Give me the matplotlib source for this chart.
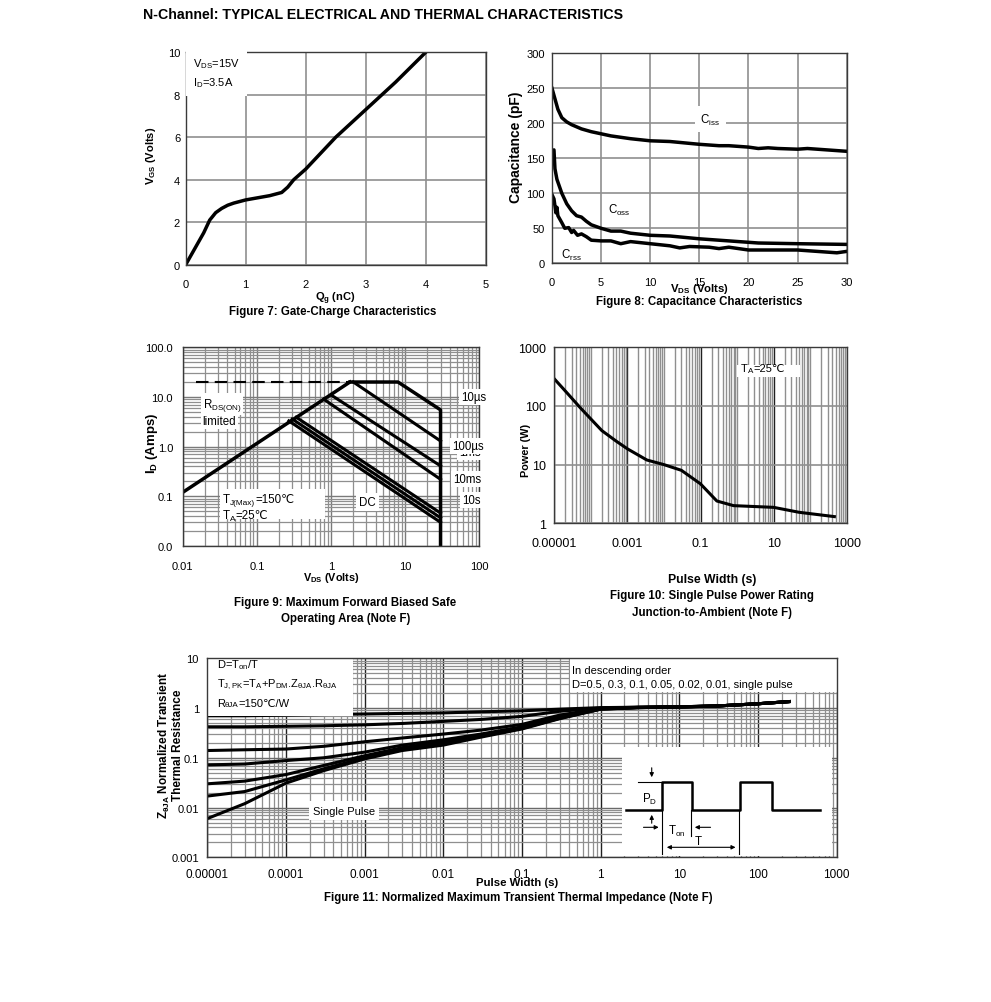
import matplotlib
matplotlib.use("Agg")
import matplotlib.pyplot as plt
from matplotlib.patches import Rectangle
from matplotlib.ticker import LogLocator, NullFormatter, FixedLocator

plt.rcParams['font.family'] = ['Liberation Sans', 'DejaVu Sans']
plt.rcParams['mathtext.default'] = 'regular'
plt.rcParams['font.size'] = 7.5

# ---------------- data ----------------
# Figure 7: gate charge
qg = [0, 0.1, 0.2, 0.3, 0.4, 0.5, 0.6, 0.7, 0.8, 1.0, 1.2, 1.4, 1.6, 1.7, 1.8, 2.0, 2.5, 3.0, 3.5, 4.0]
vgs = [0, 0.5, 1.0, 1.5, 2.1, 2.45, 2.65, 2.8, 2.9, 3.05, 3.15, 3.25, 3.4, 3.65, 4.0, 4.5, 6.0, 7.3, 8.6, 10.0]

# Figure 8: capacitance
vds_ciss = [0, 0.3, 0.6, 1, 1.5, 2, 3, 4, 5, 6, 7, 8, 10, 12, 15, 17, 18, 20, 21, 22, 23, 25, 26, 28, 30]
ciss = [250, 235, 220, 208, 202, 198, 192, 188, 185, 182, 180, 178, 175, 174, 170, 168, 168, 166, 164, 165, 164, 163, 164, 162, 160]
vds_coss = [0.05, 0.2, 0.3, 0.5, 1, 1.5, 2, 2.5, 3, 3.5, 4, 5, 6, 7, 8, 10, 12, 15, 20, 21, 25, 30]
coss = [160, 162, 135, 120, 100, 85, 75, 68, 66, 60, 55, 50, 46, 46, 43, 40, 39, 35, 30, 29, 28, 27]
vds_crss = [0, 0.2, 0.4, 0.5, 0.6, 1, 1.3, 1.7, 2, 2.2, 2.6, 3, 3.5, 4, 5, 6, 7, 8, 10, 12, 13, 14, 16, 17, 18, 20, 22, 25, 28, 29, 30]
crss = [98, 92, 72, 80, 68, 58, 50, 51, 44, 47, 40, 42, 38, 33, 32, 32, 28, 31, 28, 25, 22, 24, 23, 21, 23, 19, 19, 19, 16, 15, 17]

# Figure 9: safe operating area (V, A)
rds_v = [0.01, 1.8]
rds_i = [0.12, 20]
rds_dash_v = [0.015, 1.8]
rds_dash_i = [20, 20]
soa_lines = {
    '10us': ([1.8, 8, 30, 30], [20, 20, 5.5, 0.01]),
    '100us': ([2.0, 30], [20, 1.3]),
    '1ms': ([1.0, 30], [11, 0.41]),
    '10ms': ([0.8, 30], [9, 0.22]),
    '1s': ([0.34, 30], [3.9, 0.046]),
    '10s': ([0.3, 30], [3.6, 0.037]),
    'DC': ([0.27, 30], [3.3, 0.03]),
}
soa_labels = ['10\u00b5s', '1ms', '100\u00b5s', '10ms', '10s']
soa_label_v = [57, 53, 43, 44, 59]
soa_label_i = [9.9, 0.77, 1.05, 0.22, 0.086]

# Figure 10: single pulse power
pw = [1e-5, 2e-5, 5e-5, 1e-4, 2e-4, 5e-4, 1e-3, 3.4e-3, 1e-2, 3e-2, 0.1, 0.28, 0.8, 10, 50, 460]
ppk = [290, 180, 95, 60, 38, 25, 18.6, 12, 10, 8, 4.7, 2.4, 2.0, 1.87, 1.54, 1.3]

# Figure 11: transient thermal impedance
t_pulse = [1e-5, 3e-5, 1e-4, 3e-4, 1e-3, 3e-3, 1e-2, 3e-2, 0.1, 0.3, 1, 3, 10, 30, 100, 250]
zth = {
    0.5: [0.70, 0.70, 0.72, 0.74, 0.76, 0.78, 0.80, 0.84, 0.88, 0.95, 1.02, 1.04, 1.06, 1.1, 1.22, 1.35],
    0.3: [0.42, 0.42, 0.43, 0.44, 0.46, 0.49, 0.54, 0.59, 0.68, 0.86, 1.0, 1.04, 1.06, 1.1, 1.22, 1.35],
    0.1: [0.14, 0.145, 0.15, 0.17, 0.21, 0.25, 0.30, 0.36, 0.47, 0.72, 0.98, 1.03, 1.06, 1.1, 1.22, 1.35],
    0.05: [0.072, 0.075, 0.088, 0.10, 0.13, 0.18, 0.23, 0.30, 0.42, 0.67, 0.97, 1.03, 1.06, 1.1, 1.22, 1.35],
    0.02: [0.030, 0.034, 0.046, 0.07, 0.11, 0.16, 0.21, 0.28, 0.40, 0.64, 0.96, 1.02, 1.05, 1.1, 1.22, 1.35],
    0.01: [0.017, 0.021, 0.036, 0.06, 0.10, 0.15, 0.20, 0.27, 0.39, 0.62, 0.95, 1.02, 1.05, 1.1, 1.22, 1.35],
    0.0: [0.006, 0.012, 0.031, 0.055, 0.095, 0.14, 0.18, 0.26, 0.38, 0.61, 0.95, 1.02, 1.05, 1.1, 1.22, 1.35],
}

# inset schematic of the pulse train (drawing units)
pulse_x = [626, 662, 662, 692, 692, 740, 740, 772, 772, 820]
pulse_y = [811, 811, 783, 783, 811, 811, 783, 783, 811, 811]

W, H = 991, 1003
GRID = '#8f8f8f'
SPINE = '#3a3a3a'


def box(px0, py0, px1, py1):
    # axes rectangle from pixel corners
    return [px0 / W, 1 - py1 / H, (px1 - px0) / W, (py1 - py0) / H]


def style(ax, xpad, ypad, xsize, ysize):
    for s in ax.spines.values():
        s.set_color(SPINE)
        s.set_linewidth(1.0)
    ax.tick_params(which='both', length=0)
    ax.tick_params(axis='x', pad=xpad, labelsize=xsize)
    ax.tick_params(axis='y', pad=ypad, labelsize=ysize)
    ax.set_axisbelow(True)


def chain_text(ax, x, y, parts, size, transform=None):
    # plain-text pieces (keeps the font fallback for the degree-Celsius sign)
    first = prev = None
    for s, sub in parts:
        fs = size * 0.72 if sub else size
        if first is None:
            t = ax.text(x, y, s, fontsize=fs, ha='left', va='baseline', zorder=4,
                        transform=transform if transform is not None else ax.transData)
            first = t
        else:
            t = ax.annotate(s, xy=(1, 0), xycoords=(prev, first),
                            xytext=(0, -0.6 if sub else 0), textcoords='offset points',
                            fontsize=fs, ha='left', va='bottom', zorder=4)
        prev = t


wbox = dict(facecolor='white', edgecolor='none', pad=1.5)

fig = plt.figure(figsize=(W / 100, H / 100), dpi=100)

fig.text(143 / W, 1 - 15 / H, 'N-Channel: TYPICAL ELECTRICAL AND THERMAL CHARACTERISTICS',
         fontsize=10.2, fontweight='bold', va='center', ha='left')

# ---------------- Figure 7 ----------------
ax7 = fig.add_axes(box(185.7, 53.3, 485.7, 265.7))
ax7.plot(qg, vgs, color='black', lw=2.5)
ax7.set_xlim(0, 5)
ax7.set_ylim(0, 10)
ax7.set_xticks([0, 1, 2, 3, 4, 5])
ax7.set_yticks([0, 2, 4, 6, 8, 10])
ax7.grid(True, color=GRID, lw=1.2)
style(ax7, 10, 4, 8, 8)
ax7.set_xlabel('Q$_g$ (nC)', fontweight='bold', fontsize=8)
ax7.xaxis.set_label_coords(0.5, -0.118)
ax7.set_ylabel('V$_{GS}$ (Volts)', fontweight='bold', fontsize=8)
ax7.yaxis.set_label_coords(-0.092, 0.517)
ax7.text(0.12, 9.05, 'V$_{DS}$=15V\nI$_D$=3.5A', fontsize=8, va='center', ha='left',
         linespacing=1.5, bbox=dict(facecolor='white', edgecolor='none', pad=5))
fig.text(333 / W, 1 - 311.7 / H, 'Figure 7: Gate-Charge Characteristics',
         fontweight='bold', ha='center', va='center', fontsize=8.3)

# ---------------- Figure 8 ----------------
ax8 = fig.add_axes(box(552, 54.3, 846.7, 264.3))
ax8.plot(vds_ciss, ciss, color='black', lw=2.5)
ax8.plot(vds_coss, coss, color='black', lw=2.5)
ax8.plot(vds_crss, crss, color='black', lw=2.5)
ax8.set_xlim(0, 30)
ax8.set_ylim(0, 300)
ax8.set_xticks(range(0, 31, 5))
ax8.set_yticks(range(0, 301, 50))
ax8.grid(True, color=GRID, lw=1.2)
style(ax8, 10, 5, 8, 8)
ax8.text(16.1, 206, 'C$_{iss}$', ha='center', va='center', fontsize=8.3,
         bbox=dict(facecolor='white', edgecolor='none', pad=4))
ax8.text(6.9, 77, 'C$_{oss}$', ha='center', va='center', fontsize=8.3, bbox=wbox)
ax8.text(2.0, 12, 'C$_{rss}$', ha='center', va='center', fontsize=8.3)
ax8.set_xlabel('V$_{DS}$ (Volts)', fontweight='bold', fontsize=8.2)
ax8.xaxis.set_label_coords(0.5, -0.085)
ax8.set_ylabel('Capacitance (pF)', fontweight='bold', fontsize=10)
ax8.yaxis.set_label_coords(-0.098, 0.556)
fig.text(699 / W, 1 - 302 / H, 'Figure 8: Capacitance Characteristics',
         fontweight='bold', ha='center', va='center', fontsize=8.3)

# ---------------- Figure 9 ----------------
ax9 = fig.add_axes(box(182.7, 348.3, 479.3, 547))
ax9.set_xscale('log')
ax9.set_yscale('log')
ax9.plot(rds_v, rds_i, color='black', lw=2.5)
ax9.plot(rds_dash_v, rds_dash_i, color='black', lw=1.5, ls=(0, (6, 3)))
for name, (v, i) in soa_lines.items():
    ax9.plot(v, i, color='black', lw=2.5 if name == '10us' else 2.2)
for k, (lab, v, i) in enumerate(zip(soa_labels, soa_label_v, soa_label_i)):
    ax9.text(v, i, lab, ha='left', va='center', fontsize=8.3, bbox=wbox, zorder=3 + k * 0.1)
ax9.text(0.0186, 7.2, 'R$_{DS(ON)}$', ha='left', va='center', fontsize=8.3, bbox=wbox)
ax9.text(0.0186, 3.3, 'limited', ha='left', va='center', fontsize=8.3, bbox=wbox)
ax9.add_patch(Rectangle((0.126, 0.136), 0.354, 0.151, transform=ax9.transAxes,
                        facecolor='white', edgecolor='none', zorder=2.5))
chain_text(ax9, 0.035, 0.077, [('T', False), ('J(Max)', True), ('=150\u2103', False)], 8.3)
chain_text(ax9, 0.035, 0.036, [('T', False), ('A', True), ('=25\u2103', False)], 8.3)
ax9.text(2.4, 0.076, 'DC', ha='left', va='center', fontsize=8.3,
         bbox=dict(facecolor='white', edgecolor='none', pad=2))
ax9.set_xlim(0.01, 100)
ax9.set_ylim(0.01, 100)
ax9.xaxis.set_major_locator(FixedLocator([0.01, 0.1, 1, 10, 100]))
ax9.set_xticklabels(['0.01', '0.1', '1', '10', '100'])
ax9.yaxis.set_major_locator(FixedLocator([0.01, 0.1, 1, 10, 100]))
ax9.set_yticklabels(['0.0', '0.1', '1.0', '10.0', '100.0'])
for a in (ax9.xaxis, ax9.yaxis):
    a.set_minor_locator(LogLocator(base=10, subs=range(2, 10), numticks=20))
    a.set_minor_formatter(NullFormatter())
ax9.grid(True, which='major', color='#7a7a7a', lw=1.0)
ax9.grid(True, which='minor', color=GRID, lw=0.9)
style(ax9, 11, 7, 8, 8)
ax9.set_xlabel('V$_{DS}$ (Volts)', fontweight='bold', fontsize=7.8)
ax9.xaxis.set_label_coords(0.5, -0.122)
ax9.set_ylabel('I$_D$ (Amps)', fontweight='bold', fontsize=9.5)
ax9.yaxis.set_label_coords(-0.077, 0.52)
fig.text(345.5 / W, 1 - 611 / H, 'Figure 9: Maximum Forward Biased Safe\nOperating Area (Note F)',
         fontweight='bold', ha='center', va='center', linespacing=1.45, fontsize=8.3)

# ---------------- Figure 10 ----------------
ax10 = fig.add_axes(box(554.3, 348.3, 846.7, 524.3))
ax10.set_xscale('log')
ax10.set_yscale('log')
ax10.plot(pw, ppk, color='black', lw=2.2)
ax10.set_xlim(1e-5, 1000)
ax10.set_ylim(1, 1000)
ax10.xaxis.set_major_locator(FixedLocator([1e-5, 1e-3, 0.1, 10, 1000]))
ax10.set_xticklabels(['0.00001', '0.001', '0.1', '10', '1000'])
ax10.yaxis.set_major_locator(FixedLocator([1, 10, 100, 1000]))
ax10.set_yticklabels(['1', '10', '100', '1000'])
ax10.xaxis.set_minor_locator(LogLocator(base=10, subs=range(1, 10), numticks=20))
ax10.xaxis.set_minor_formatter(NullFormatter())
ax10.yaxis.set_minor_locator(FixedLocator([]))
ax10.grid(True, which='minor', axis='x', color=GRID, lw=1.0)
ax10.grid(True, which='major', axis='x', color='#202020', lw=1.0)
ax10.grid(True, which='major', axis='y', color=GRID, lw=1.2)
style(ax10, 10, 6, 9, 9)
ax10.add_patch(Rectangle((0.625, 0.831), 0.215, 0.07, transform=ax10.transAxes,
                         facecolor='white', edgecolor='none', zorder=2.5))
chain_text(ax10, 1.3, 390, [('T', False), ('A', True), ('=25\u2103', False)], 8)
ax10.set_xlabel('Pulse Width (s)', fontweight='bold', fontsize=8.8)
ax10.xaxis.set_label_coords(0.539, -0.285)
ax10.set_ylabel('Power (W)', fontweight='bold', fontsize=7.8)
ax10.yaxis.set_label_coords(-0.081, 0.418)
fig.text(712 / W, 1 - 604.5 / H, 'Figure 10: Single Pulse Power Rating\nJunction-to-Ambient (Note F)',
         fontweight='bold', ha='center', va='center', linespacing=1.45, fontsize=8.3)

# ---------------- Figure 11 ----------------
ax11 = fig.add_axes(box(207.3, 659.3, 836.7, 858.3))
ax11.set_xscale('log')
ax11.set_yscale('log')
for d, z in zth.items():
    ax11.plot(t_pulse, z, color='black', lw=2.2)
ax11.set_xlim(1e-5, 1000)
ax11.set_ylim(0.001, 10)
ax11.xaxis.set_major_locator(FixedLocator([1e-5, 1e-4, 1e-3, 1e-2, 0.1, 1, 10, 100, 1000]))
ax11.set_xticklabels(['0.00001', '0.0001', '0.001', '0.01', '0.1', '1', '10', '100', '1000'])
ax11.yaxis.set_major_locator(FixedLocator([0.001, 0.01, 0.1, 1, 10]))
ax11.set_yticklabels(['0.001', '0.01', '0.1', '1', '10'])
for a in (ax11.xaxis, ax11.yaxis):
    a.set_minor_locator(LogLocator(base=10, subs=range(2, 10), numticks=20))
    a.set_minor_formatter(NullFormatter())
ax11.grid(True, which='minor', color=GRID, lw=0.9)
ax11.grid(True, which='major', axis='x', color='#202020', lw=1.0)
ax11.grid(True, which='major', axis='y', color='#6a6a6a', lw=1.0)
style(ax11, 8, 6, 8.5, 8)
ax11.add_patch(Rectangle((0, 0.712), 0.232, 0.288, transform=ax11.transAxes,
                         facecolor='white', edgecolor='none', zorder=2))
ax11.add_patch(Rectangle((0.576, 0.83), 0.424, 0.17, transform=ax11.transAxes,
                         facecolor='white', edgecolor='none', zorder=2))
ax11.text(0.015, 0.971, 'D=T$_{on}$/T', transform=ax11.transAxes, va='center', zorder=3, fontsize=8)
ax11.text(0.015, 0.871, 'T$_{J,PK}$=T$_A$+P$_{DM}$.Z$_{\u03b8JA}$.R$_{\u03b8JA}$',
          transform=ax11.transAxes, va='center', zorder=3, fontsize=8)
chain_text(ax11, 0.015, 0.762, [('R', False), ('\u03b8JA', True), ('=150\u2103/W', False)], 8,
           transform=ax11.transAxes)
ax11.text(0.58, 0.943, 'In descending order', transform=ax11.transAxes, va='center', zorder=3,
          fontsize=8)
ax11.text(0.58, 0.871, 'D=0.5, 0.3, 0.1, 0.05, 0.02, 0.01, single pulse',
          transform=ax11.transAxes, va='center', zorder=3, fontsize=8)
ax11.text(2.2e-4, 0.0087, 'Single Pulse', ha='left', va='center', fontsize=8,
          bbox=dict(facecolor='white', edgecolor='none', pad=3))
ax11.set_xlabel('Pulse Width (s)', fontweight='bold', fontsize=8.2)
ax11.xaxis.set_label_coords(0.492, -0.098)
ax11.set_ylabel('Z$_{\u03b8JA}$ Normalized Transient\nThermal Resistance', fontweight='bold',
                linespacing=0.95, fontsize=8.5)
ax11.yaxis.set_label_coords(-0.037, 0.566)
fig.text(518 / W, 1 - 898 / H, 'Figure 11: Normalized Maximum Transient Thermal Impedance (Note F)',
         fontweight='bold', ha='center', va='center', fontsize=8.3)

# inset pulse schematic
ins = ax11.inset_axes([0.6589, 0.0065, 0.3337, 0.5477])
ins.set_xlim(622, 832)
ins.set_ylim(857, 748)
ins.set_xticks([])
ins.set_yticks([])
for s in ins.spines.values():
    s.set_visible(False)
ins.plot(pulse_x, pulse_y, color='black', lw=1.8)
ins.plot([638, 662], [783, 783], color='black', lw=0.8)
ins.plot([662, 662], [811, 855], color='black', lw=0.8)
ins.plot([690.5, 690.5], [811, 837], color='black', lw=0.8)
ins.plot([739, 739], [811, 855], color='black', lw=0.8)
arr = dict(arrowstyle='-|>', color='black', lw=0.8, mutation_scale=6)
ins.annotate('', xy=(651.7, 781), xytext=(651.7, 766), arrowprops=arr)
ins.annotate('', xy=(651.7, 813), xytext=(651.7, 827), arrowprops=arr)
ins.annotate('', xy=(661.5, 828.3), xytext=(640.7, 828.3), arrowprops=arr)
ins.annotate('', xy=(692, 828.3), xytext=(713.3, 828.3), arrowprops=arr)
ins.annotate('', xy=(664, 848.3), xytext=(738.3, 848.3),
             arrowprops=dict(arrowstyle='<|-|>', color='black', lw=0.8, mutation_scale=6))
ins.text(650, 799.3, 'P$_D$', ha='center', va='center', fontsize=8.3)
ins.text(676.7, 831.7, 'T$_{on}$', ha='center', va='center', fontsize=8.3)
ins.text(698.3, 841.7, 'T', ha='center', va='center', fontsize=8.3)

fig.savefig('out.png', dpi=100)
